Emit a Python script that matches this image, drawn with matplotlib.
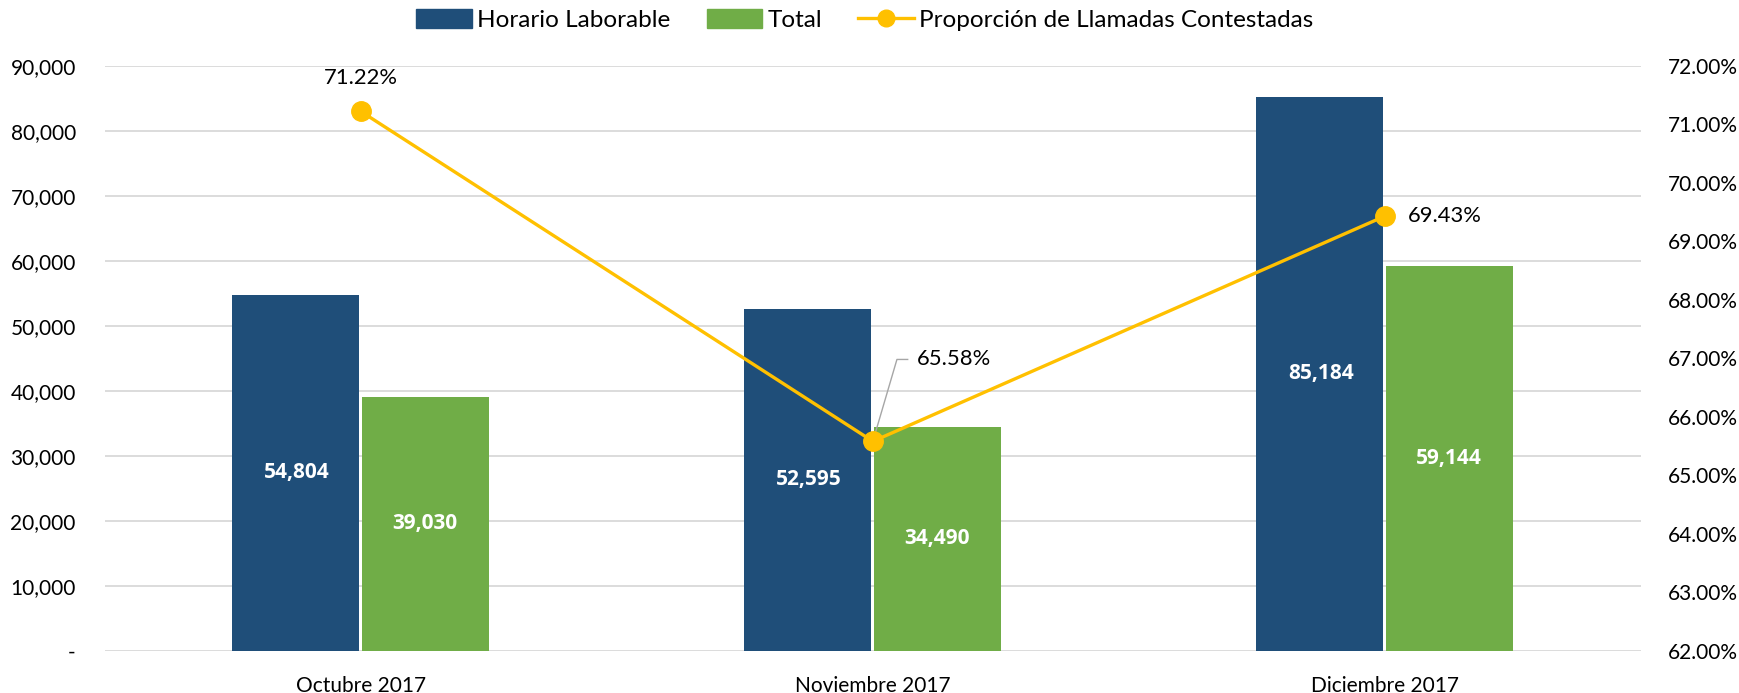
import numpy as np
import matplotlib
matplotlib.use("Agg")
import matplotlib.pyplot as plt
from matplotlib.ticker import FuncFormatter
from matplotlib.lines import Line2D
from matplotlib.patches import Patch

# Data
months = ["Octubre 2017", "Noviembre 2017", "Diciembre 2017"]
horario = [54804, 52595, 85184]
total = [39030, 34490, 59144]
proporcion = [71.22, 65.58, 69.43]

blue = "#1F4E79"
green = "#70AD47"
yellow = "#FFC000"
grid = "#D9D9D9"

plt.rcParams["font.family"] = ["Lato", "DejaVu Sans"]
fs = 15

fig = plt.figure(figsize=(17.4, 6.93), dpi=100)
ax = fig.add_axes([0.0603, 0.061, 0.8827, 0.844])
ax2 = ax.twinx()

x = np.arange(len(months))
w = 0.25
ax.bar(x - w / 2 - 0.002, horario, w - 0.002, color=blue, zorder=2)
ax.bar(x + w / 2 + 0.002, total, w - 0.002, color=green, zorder=2)

# Bar labels (bold, white, centred in the bar)
for i in range(len(months)):
    ax.text(x[i] - w / 2, horario[i] / 2, f"{horario[i]:,}", color="white",
            fontsize=15, fontweight="bold", family=["Open Sans", "DejaVu Sans"],
            ha="center", va="center", zorder=3)
    ax.text(x[i] + w / 2, total[i] / 2, f"{total[i]:,}", color="white",
            fontsize=15, fontweight="bold", family=["Open Sans", "DejaVu Sans"],
            ha="center", va="center", zorder=3)

ax.set_xlim(-0.5, 2.5)
ax.set_ylim(0, 90000)
ax.set_yticks(np.arange(0, 90001, 10000))
ax.yaxis.set_major_formatter(FuncFormatter(lambda v, p: "-" if v == 0 else f"{int(v):,}"))
ax.set_xticks(x)
ax.set_xticklabels(months)
ax.grid(axis="y", color=grid, linewidth=1.3, zorder=0)
ax.set_axisbelow(True)
for s in ax.spines.values():
    s.set_visible(False)
for s in ax2.spines.values():
    s.set_visible(False)
ax.tick_params(axis="both", length=0, labelsize=fs, colors="black")
ax.tick_params(axis="y", pad=21)
ax.tick_params(axis="x", pad=18)

# Line on secondary axis
ax2.plot(x, proporcion, color=yellow, linewidth=2.4, marker="o", markersize=14, zorder=4)
ax2.set_ylim(62, 72)
ax2.set_yticks(np.arange(62, 72.01, 1))
ax2.yaxis.set_major_formatter(FuncFormatter(lambda v, p: f"{v:.2f}%"))
ax2.tick_params(axis="y", length=0, labelsize=fs, pad=19.5)

lfs = 15.8
ax2.annotate(f"{proporcion[0]:.2f}%", (x[0], proporcion[0]), xytext=(0, 24),
             textcoords="offset points", ha="center", va="center", fontsize=lfs)
ax2.plot([x[1], x[1] + 0.047, x[1] + 0.068], [proporcion[1], 66.98, 66.98],
         color="#A6A6A6", linewidth=1, zorder=3)
ax2.annotate(f"{proporcion[1]:.2f}%", (x[1], proporcion[1]), xytext=(x[1] + 0.085, 66.98),
             textcoords="data", ha="left", va="center", fontsize=lfs)
ax2.annotate(f"{proporcion[2]:.2f}%", (x[2], proporcion[2]), xytext=(x[2] + 0.045, proporcion[2]),
             textcoords="data", ha="left", va="center", fontsize=lfs)

handles = [Patch(color=blue, label="Horario Laborable"),
           Patch(color=green, label="Total"),
           Line2D([], [], color=yellow, linewidth=2.4, marker="o", markersize=12,
                  label="Proporción de Llamadas Contestadas")]
fig.legend(handles=handles, loc="center", bbox_to_anchor=(0.497, 0.971), ncol=3,
           frameon=False, fontsize=17.5, handlelength=2.3, handleheight=0.8,
           handletextpad=0.2, columnspacing=1.5)

fig.savefig("out.png", dpi=100)
